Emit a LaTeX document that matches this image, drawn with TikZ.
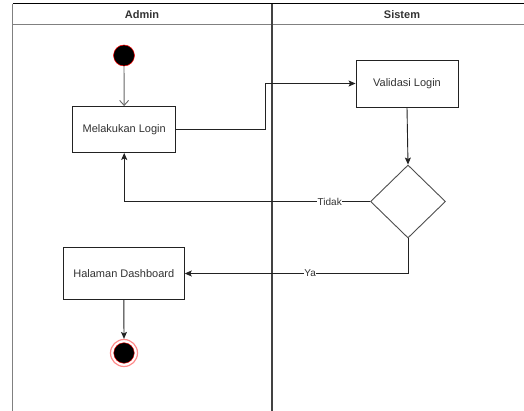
\documentclass[tikz,border=0pt]{standalone}
\usepackage{fontspec}
\setmainfont{Liberation Sans}
\usetikzlibrary{shapes.geometric,arrows.meta}
\definecolor{ln}{HTML}{222222}
\definecolor{txt}{HTML}{333333}
\begin{document}
\begin{tikzpicture}[x=1pt,y=-1pt,
  box/.style={draw=ln, line width=0.9pt, rectangle, inner sep=0pt, font=\fontsize{11}{13}\selectfont, text=txt},
  dec/.style={draw=ln!80, line width=0.9pt, diamond, inner sep=0pt, minimum width=75pt, minimum height=73pt},
  flow/.style={draw=ln, line width=0.9pt, -{Stealth[length=7pt,width=6pt,inset=1.5pt]}},
  lbl/.style={fill=white, inner sep=0.5pt, font=\fontsize{10}{12}\selectfont, text=txt},
  hdr/.style={font=\bfseries\fontsize{11}{13}\selectfont, text=txt}]
\useasboundingbox (0,0) rectangle (524,411);
\fill[white] (0,0) rectangle (524,411);
% swimlanes
\draw[gray, line width=1pt] (12.5,411) -- (12.5,4);
\draw[gray, line width=1pt] (12.5,25) -- (524,25);
\draw[ln!85, line width=1.6pt] (272,4) -- (272,411);
\draw[black, line width=1pt] (12.5,4) -- (524,4);
\node[hdr] (hA) at (142,14.5) {Admin};
\node[hdr] (hS) at (402,14.5) {Sistem};
% nodes
\node[circle, fill=black, draw=red, line width=0.5pt, minimum size=21pt, inner sep=0pt] (start) at (124,55.5) {};
\node[box, minimum width=103pt, minimum height=46pt] (login) at (124.2,129.5) {Melakukan Login};
\node[box, minimum width=102pt, minimum height=47pt] (valid) at (407,83.5) {Validasi Login};
\node[dec] (d) at (408,201.5) {};
\node[box, minimum width=121pt, minimum height=51.5pt] (dash) at (123.8,273.5) {Halaman Dashboard};
\node[circle, draw=red!45, line width=1.2pt, minimum size=27pt, inner sep=0pt] (end) at (124,353) {};
\fill[black] (end.center) circle (10.3);
\draw[red, line width=0.4pt] (end.center) circle (10.3);
% connectors
\draw[gray!80!black, line width=0.9pt, -{Straight Barb[length=5pt,width=9pt]}] (start) -- (login);
\draw[flow] (login.east) -- ++(89.5,0) |- (valid.west);
\draw[flow] (valid.south) -- (d.north);
\draw[flow] (d.west) -| node[lbl, pos=0.082] {Tidak} (login.south);
\draw[flow] (d.south) |- node[lbl, pos=0.719] {Ya} (dash.east);
\draw[flow] (dash.south) -- (end.north);
\end{tikzpicture}
\end{document}
